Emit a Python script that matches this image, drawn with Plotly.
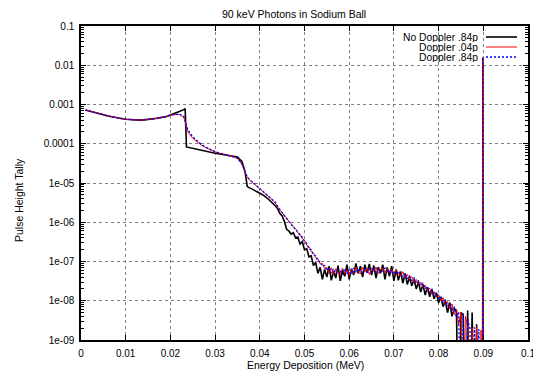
import plotly.graph_objects as go

# ---------------- data ----------------
energy = [
    0.001, 0.002, 0.003, 0.004, 0.005, 0.006, 0.007, 0.008, 0.009, 0.010,
    0.011, 0.012, 0.013, 0.014, 0.015, 0.016, 0.017, 0.018, 0.019, 0.020,
    0.021, 0.022, 0.023, 0.0233, 0.0236, 0.024, 0.025, 0.026, 0.027, 0.028,
    0.029, 0.030, 0.031, 0.032, 0.033, 0.034, 0.035, 0.036, 0.0367, 0.0372,
    0.038, 0.039, 0.040, 0.041, 0.042, 0.043,
    0.0435, 0.0440, 0.0445, 0.0450, 0.0455, 0.0460, 0.0465, 0.0470, 0.0475, 0.0480,
    0.0485, 0.0490, 0.0495, 0.0500, 0.0505, 0.0510, 0.0515, 0.0520, 0.0525, 0.0530,
    0.0535, 0.0540, 0.0545, 0.0550, 0.0555, 0.0560, 0.0565, 0.0570, 0.0575, 0.0580,
    0.0585, 0.0590, 0.0595, 0.0600, 0.0605, 0.0610, 0.0615, 0.0620, 0.0625, 0.0630,
    0.0635, 0.0640, 0.0645, 0.0650, 0.0655, 0.0660, 0.0665, 0.0670, 0.0675, 0.0680,
    0.0685, 0.0690, 0.0695, 0.0700, 0.0705, 0.0710, 0.0715, 0.0720, 0.0725, 0.0730,
    0.0735, 0.0740, 0.0745, 0.0750, 0.0755, 0.0760, 0.0765, 0.0770, 0.0775, 0.0780,
    0.0785, 0.0790, 0.0795, 0.0800, 0.0805, 0.0810, 0.0815, 0.0820, 0.0825, 0.0830,
    0.0835, 0.0840, 0.0845, 0.0850, 0.0855, 0.0860, 0.0865, 0.0870, 0.0875, 0.0880,
    0.0885, 0.0890, 0.0895, 0.08985, 0.0899, 0.08995,
]

# empty bins (zero tally) are stored as 1e-12, below the plotted range
no_doppler_84p = [
    7.2e-4, 6.8e-4, 6.3e-4, 5.9e-4, 5.5e-4, 5.1e-4, 4.8e-4, 4.6e-4, 4.4e-4, 4.2e-4,
    4.1e-4, 4.05e-4, 4.0e-4, 4.05e-4, 4.1e-4, 4.3e-4, 4.45e-4, 4.6e-4, 4.9e-4, 5.4e-4,
    5.9e-4, 6.6e-4, 7.4e-4, 7.8e-4, 8.3e-5, 8.1e-5, 7.6e-5, 7.1e-5, 6.6e-5, 6.3e-5,
    6.0e-5, 5.75e-5, 5.5e-5, 5.3e-5, 5.1e-5, 4.9e-5, 4.6e-5, 3.55e-5, 1.95e-5, 8.1e-6,
    7.1e-6, 6.3e-6, 5.5e-6, 4.7e-6, 3.8e-6, 3.0e-6,
    2.6e-6, 2.2e-6, 1.66e-6, 1.45e-6, 1.05e-6, 6.6e-7, 6.0e-7, 5.0e-7, 5.4e-7, 4.0e-7,
    4.2e-7, 2.8e-7, 3.2e-7, 2.0e-7, 2.1e-7, 1.32e-7, 1.4e-7, 7.9e-8, 9.5e-8, 5.0e-8,
    7.1e-8, 3.5e-8, 6.3e-8, 4.0e-8, 7.6e-8, 3.3e-8, 5.6e-8, 3.8e-8, 7.9e-8, 3.2e-8,
    6.0e-8, 4.2e-8, 8.3e-8, 3.5e-8, 6.6e-8, 4.5e-8, 8.9e-8, 5.0e-8, 7.6e-8, 4.0e-8,
    8.3e-8, 5.2e-8, 8.7e-8, 4.5e-8, 7.9e-8, 3.8e-8, 7.2e-8, 5.0e-8, 8.3e-8, 3.5e-8,
    7.1e-8, 4.2e-8, 7.6e-8, 3.2e-8, 6.3e-8, 3.3e-8, 5.6e-8, 2.8e-8, 5.0e-8, 2.6e-8,
    4.0e-8, 2.4e-8, 3.5e-8, 2.0e-8, 3.0e-8, 1.66e-8, 2.6e-8, 1.4e-8, 2.2e-8, 1.26e-8,
    1.9e-8, 1.12e-8, 1.6e-8, 8.9e-9, 1.26e-8, 7.1e-9, 1.0e-8, 5.0e-9, 8.9e-9, 4.0e-9,
    6.3e-9, 5.6e-9, 1e-12, 5.0e-9, 4.5e-9, 1e-12, 5.6e-9, 1e-12, 5.0e-9, 1e-12,
    2.5e-9, 1e-12, 1e-12, 1e-12, 1.5e-2, 1e-12,
]

doppler_04p = [
    7.2e-4, 6.8e-4, 6.3e-4, 5.9e-4, 5.5e-4, 5.1e-4, 4.8e-4, 4.6e-4, 4.4e-4, 4.2e-4,
    4.1e-4, 4.05e-4, 4.0e-4, 4.05e-4, 4.1e-4, 4.3e-4, 4.45e-4, 4.6e-4, 4.9e-4, 5.4e-4,
    5.6e-4, 5.6e-4, 4.7e-4, 3.6e-4, 2.45e-4, 1.9e-4, 1.38e-4, 1.1e-4, 9.1e-5, 7.9e-5,
    6.9e-5, 6.2e-5, 5.75e-5, 5.4e-5, 5.1e-5, 4.8e-5, 4.2e-5, 3.0e-5, 1.9e-5, 1.38e-5,
    1.12e-5, 8.9e-6, 7.2e-6, 5.75e-6, 4.6e-6, 3.55e-6,
    3.0e-6, 2.45e-6, 2.0e-6, 1.8e-6, 1.45e-6, 1.3e-6, 1.05e-6, 9.3e-7, 7.6e-7, 6.9e-7,
    5.4e-7, 5.0e-7, 3.8e-7, 3.5e-7, 2.6e-7, 2.4e-7, 1.8e-7, 1.66e-7, 1.26e-7, 1.17e-7,
    8.7e-8, 8.9e-8, 6.6e-8, 7.2e-8, 5.0e-8, 6.9e-8, 4.7e-8, 6.5e-8, 5.2e-8, 4.5e-8,
    6.8e-8, 5.0e-8, 6.0e-8, 4.4e-8, 6.3e-8, 4.9e-8, 7.2e-8, 5.5e-8, 4.8e-8, 7.1e-8,
    5.4e-8, 6.5e-8, 4.7e-8, 6.8e-8, 5.6e-8, 7.2e-8, 5.0e-8, 6.2e-8, 6.9e-8, 5.1e-8,
    6.6e-8, 5.4e-8, 6.3e-8, 4.6e-8, 6.0e-8, 4.9e-8, 4.2e-8, 5.5e-8, 4.0e-8, 4.7e-8,
    3.5e-8, 4.1e-8, 3.0e-8, 3.5e-8, 2.6e-8, 3.0e-8, 2.2e-8, 2.5e-8, 1.8e-8, 2.1e-8,
    1.5e-8, 1.7e-8, 1.26e-8, 1.45e-8, 1.0e-8, 1.2e-8, 7.9e-9, 9.5e-9, 6.3e-9, 8.3e-9,
    4.5e-9, 6.0e-9, 2.5e-9, 5.0e-9, 1e-12, 4.0e-9, 2.2e-9, 1e-12, 2.0e-9, 1e-12,
    2.2e-9, 1e-12, 1.8e-9, 1e-12, 1.6e-2, 1e-12,
]

doppler_84p = [
    7.2e-4, 6.8e-4, 6.3e-4, 5.9e-4, 5.5e-4, 5.1e-4, 4.8e-4, 4.6e-4, 4.4e-4, 4.2e-4,
    4.1e-4, 4.05e-4, 4.0e-4, 4.05e-4, 4.1e-4, 4.3e-4, 4.45e-4, 4.6e-4, 4.9e-4, 5.4e-4,
    5.6e-4, 5.7e-4, 5.0e-4, 4.0e-4, 2.8e-4, 2.2e-4, 1.5e-4, 1.17e-4, 9.5e-5, 8.1e-5,
    7.0e-5, 6.3e-5, 5.8e-5, 5.4e-5, 5.1e-5, 4.8e-5, 4.3e-5, 3.1e-5, 2.0e-5, 1.42e-5,
    1.15e-5, 9.1e-6, 7.4e-6, 5.9e-6, 4.7e-6, 3.7e-6,
    3.2e-6, 2.5e-6, 2.1e-6, 1.75e-6, 1.5e-6, 1.25e-6, 1.1e-6, 8.7e-7, 7.9e-7, 6.3e-7,
    5.8e-7, 4.5e-7, 4.2e-7, 3.2e-7, 2.9e-7, 2.1e-7, 2.0e-7, 1.45e-7, 1.38e-7, 1.02e-7,
    1.0e-7, 7.6e-8, 7.9e-8, 5.8e-8, 7.1e-8, 5.1e-8, 6.6e-8, 4.8e-8, 6.3e-8, 5.8e-8,
    4.6e-8, 6.6e-8, 4.9e-8, 6.2e-8, 4.7e-8, 6.8e-8, 5.1e-8, 6.5e-8, 5.8e-8, 4.9e-8,
    6.9e-8, 5.2e-8, 6.3e-8, 5.0e-8, 7.1e-8, 5.4e-8, 6.5e-8, 5.0e-8, 6.0e-8, 6.8e-8,
    5.1e-8, 6.2e-8, 4.8e-8, 5.8e-8, 4.7e-8, 5.6e-8, 4.8e-8, 4.1e-8, 5.0e-8, 3.6e-8,
    4.3e-8, 3.3e-8, 3.8e-8, 2.8e-8, 3.2e-8, 2.4e-8, 2.75e-8, 2.0e-8, 2.3e-8, 1.66e-8,
    1.95e-8, 1.38e-8, 1.6e-8, 1.15e-8, 1.3e-8, 9.1e-9, 1.05e-8, 7.2e-9, 8.7e-9, 5.6e-9,
    7.1e-9, 3.5e-9, 5.2e-9, 1e-12, 4.5e-9, 1e-12, 3.5e-9, 2.0e-9, 1e-12, 2.1e-9,
    1e-12, 1.9e-9, 1e-12, 1e-12, 1.6e-2, 1e-12,
]

series_names = ["No Doppler .84p", "Doppler .04p", "Doppler .84p"]
y_tick_vals = [1e-9, 1e-8, 1e-7, 1e-6, 1e-5, 1e-4, 1e-3, 1e-2, 1e-1]
y_tick_text = ["1e-09", "1e-08", "1e-07", "1e-06", "1e-05", "0.0001", "0.001", "0.01", "0.1"]
x_tick_vals = [0, 0.01, 0.02, 0.03, 0.04, 0.05, 0.06, 0.07, 0.08, 0.09, 0.1]
x_tick_text = ["0", "0.01", "0.02", "0.03", "0.04", "0.05", "0.06", "0.07", "0.08", "0.09", "0.1"]
y_minor_vals = [m * 10.0 ** k for k in range(-9, -1) for m in range(2, 10)]

title_text = "90 keV Photons in Sodium Ball"
x_title = "Energy Deposition (MeV)"
y_title = "Pulse Height Tally"

# ---------------- figure ----------------
FONT = "Liberation Sans, Arial, Helvetica, sans-serif"
styles = [
    dict(color="black", width=1.6, dash="solid"),
    dict(color="#ff0000", width=1.0, dash="solid"),
    dict(color="#0000ff", width=1.3, dash="2px,2px"),
]
data = [no_doppler_84p, doppler_04p, doppler_84p]

fig = go.Figure()
for name, ys, st in zip(series_names, data, styles):
    fig.add_trace(go.Scatter(x=energy, y=ys, mode="lines", name=name,
                             line=st, showlegend=False, hoverinfo="skip"))

# the page body adds an 8px offset; the figure is sized to fill the rest
OFF = 8
W, H = 541 - OFF, 379 - OFF
L, T = 81 - OFF, 26 - OFF
R = 13
B = H - (340 - OFF)
pw, ph = W - L - R, H - T - B


def px(xp):
    return (xp - OFF - L) / pw


def py(yp):
    return (H - B - (yp - OFF)) / ph


annotations = [
    dict(text=title_text, x=px(294), y=py(14), xref="paper", yref="paper",
         showarrow=False, font=dict(size=10.5, color="black", family=FONT),
         xanchor="center", yanchor="middle"),
    dict(text=x_title, x=px(305), y=py(365), xref="paper", yref="paper",
         showarrow=False, font=dict(size=10.5, color="black", family=FONT),
         xanchor="center", yanchor="middle"),
    dict(text=y_title, x=px(19), y=py(200), xref="paper", yref="paper",
         showarrow=False, textangle=-90, font=dict(size=10.5, color="black", family=FONT),
         xanchor="center", yanchor="middle"),
]
shapes = []
legend_rows = [37, 47, 57]
for name, st, yrow in zip(series_names, styles, legend_rows):
    annotations.append(dict(text=name, x=px(480), y=py(yrow), xref="paper", yref="paper",
                            showarrow=False, xanchor="right", yanchor="middle",
                            height=10, valign="middle",
                            font=dict(size=10.3, color="black", family=FONT)))
    shapes.append(dict(type="line", xref="paper", yref="paper",
                       x0=px(486), x1=px(517), y0=py(yrow), y1=py(yrow),
                       line=dict(color=st["color"], width=st["width"], dash=st["dash"])))

fig.update_layout(
    width=W, height=H,
    margin=dict(l=L, r=R, t=T, b=B, autoexpand=False),
    paper_bgcolor="white", plot_bgcolor="white",
    font=dict(family=FONT, size=10, color="black"),
    annotations=annotations, shapes=shapes,
    showlegend=False,
)
fig.update_xaxes(
    range=[0, 0.1], tickmode="array", tickvals=x_tick_vals, ticktext=x_tick_text,
    ticks="inside", ticklen=5, tickwidth=1, tickcolor="black",
    showline=True, linecolor="black", linewidth=1.5, mirror="allticks",
    showgrid=True, gridcolor="#808080", griddash="dot", gridwidth=1,
    zeroline=False, tickfont=dict(size=10, family=FONT, color="black"),
    ticklabelstandoff=3, automargin=False,
)
fig.update_yaxes(
    type="log", range=[-9, -1], tickmode="array", tickvals=y_tick_vals, ticktext=y_tick_text,
    ticks="inside", ticklen=5, tickwidth=1, tickcolor="black",
    showline=True, linecolor="black", linewidth=1.5, mirror="allticks",
    showgrid=True, gridcolor="#808080", griddash="dot", gridwidth=1,
    zeroline=False, tickfont=dict(size=10, family=FONT, color="black"),
    ticklabelstandoff=3, automargin=False,
    minor=dict(tickmode="array", tickvals=y_minor_vals, ticks="inside", ticklen=3,
               tickcolor="black", showgrid=False),
)

fig.write_html("out.html")
